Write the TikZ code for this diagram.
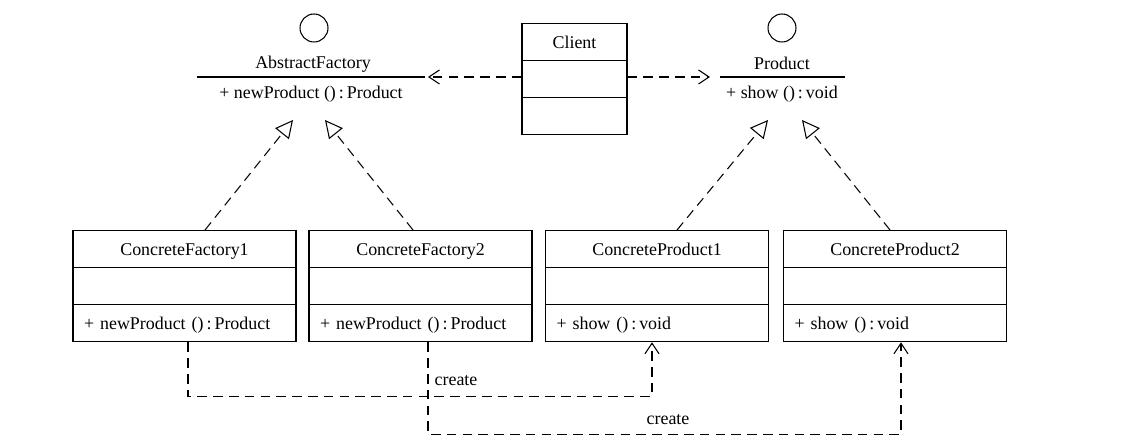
\documentclass[tikz,border=0pt]{standalone}
\usepackage{fontspec}
\setmainfont{Liberation Serif}
\usetikzlibrary{calc, arrows.meta, shapes.multipart}

% fixed height of one class compartment
\newcommand{\rowstrut}{\rule[-6.4pt]{0pt}{20.5pt}}
% centred class name in the first compartment
\newcommand{\clsname}[1]{\hfill #1\hfill\rowstrut}

\begin{document}
\begin{tikzpicture}[
  x=0.02cm, y=-0.02cm, line width=0.6pt,
  font=\fontsize{10.2}{12}\selectfont,
  umlclass/.style={draw, rectangle split, rectangle split parts=3,
    text width=4.02cm, inner xsep=0.22cm, inner ysep=0pt, anchor=north},
  iface/.style={draw, circle, minimum size=0.56cm, inner sep=0pt},
  dep/.style={dash pattern=on 5.5pt off 3.5pt,
    -{Straight Barb[length=6pt, width=8pt]}},
  real/.style={dash pattern=on 5.5pt off 3.5pt,
    -{Triangle[open, length=10pt, width=10pt]}},
]

\useasboundingbox (0,0) rectangle (1140,445);

% interface AbstractFactory (lollipop)
\node[iface] (afcirc) at (314,28) {};
\node (afname) at (313,64) {AbstractFactory};
\coordinate (aflw) at (197,77);
\coordinate (afle) at (425,77);
\draw (aflw) -- (afle);
\node (afops) at (311,94) {+ newProduct ()\,:\,Product};

% interface Product (lollipop)
\node[iface] (pdcirc) at (782,28) {};
\node (pdname) at (782,63) {Product};
\coordinate (pdlw) at (720,77);
\coordinate (pdle) at (845,77);
\draw (pdlw) -- (pdle);
\node (pdops) at (782,94) {+ show ()\,:\,void};

% Client
\node[umlclass, text width=1.66cm] (client) at (574.5,23)
  {\clsname{Client} \nodepart{second}\rowstrut \nodepart{third}\rowstrut};

% client uses both interfaces
\draw[dep] (client.west |- afle) -- ([xshift=1.7pt]afle);
\draw[dep] (client.east |- pdlw) -- ([xshift=-0.2cm]pdlw);

% concrete classes
\node[umlclass] (cf1) at (184.5,230)
  {\clsname{ConcreteFactory1} \nodepart{second}\rowstrut
   \nodepart{third}+ newProduct ()\,:\,Product\rowstrut};
\node[umlclass] (cf2) at (420.5,230)
  {\clsname{ConcreteFactory2} \nodepart{second}\rowstrut
   \nodepart{third}+ newProduct ()\,:\,Product\rowstrut};
\node[umlclass] (cp1) at (657,230)
  {\clsname{ConcreteProduct1} \nodepart{second}\rowstrut
   \nodepart{third}+ show ()\,:\,void\rowstrut};
\node[umlclass] (cp2) at (895,230)
  {\clsname{ConcreteProduct2} \nodepart{second}\rowstrut
   \nodepart{third}+ show ()\,:\,void\rowstrut};

% realization arrows
\coordinate (afin1) at (293,120);
\coordinate (afin2) at (325,120);
\coordinate (pdin1) at (768,120);
\coordinate (pdin2) at (802,120);
\draw[real] ([xshift=0.41cm]cf1.north) -- (afin1);
\draw[real] ([xshift=-0.15cm]cf2.north) -- (afin2);
\draw[real] ([xshift=0.4cm]cp1.north) -- (pdin1);
\draw[real] ([xshift=-0.1cm]cp2.north) -- (pdin2);

% create dependencies
\draw[dep] ([xshift=0.07cm]cf1.south) -- ++(0,54) -| ([xshift=-0.1cm]cp1.south);
\draw[dep] ([xshift=0.15cm]cf2.south) -- ++(0,92) -| ([xshift=0.12cm]cp2.south);
\node (create1) at (456,381) {create};
\node (create2) at (668,420) {create};

\end{tikzpicture}
\end{document}
